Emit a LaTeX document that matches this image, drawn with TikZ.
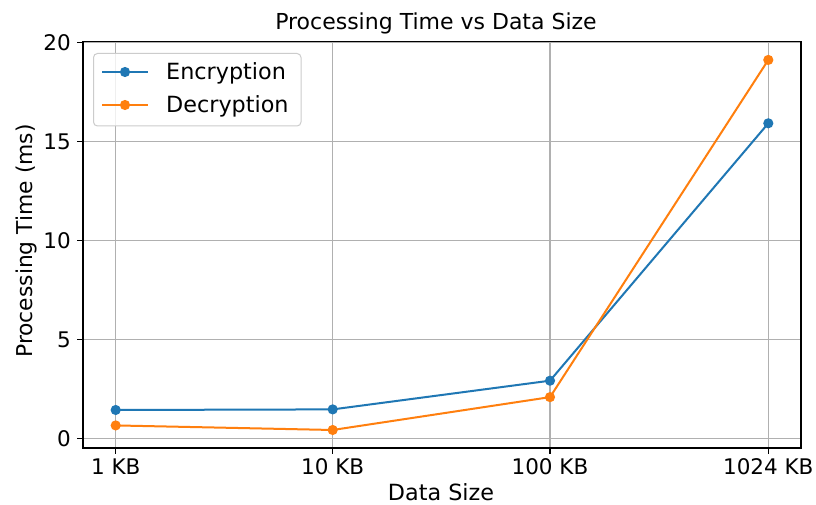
\documentclass[tikz,border=0pt]{standalone}
\usepackage{fontspec}
\setmainfont{DejaVu Sans}
\definecolor{encblue}{HTML}{1F77B4}
\definecolor{decorange}{HTML}{FF7F0E}
\definecolor{gridgray}{HTML}{B0B0B0}
\definecolor{legendedge}{HTML}{CCCCCC}
\tikzset{
  lbl/.style={inner sep=0pt, font=\fontsize{21.5}{25}\selectfont},
  biglbl/.style={inner sep=0pt, font=\fontsize{22.3}{26}\selectfont},
  gridline/.style={draw=gridgray, line width=1.1pt},
  frame/.style={draw=black, line width=1.2pt},
  tickmark/.style={draw=black, line width=1.2pt},
  series/.style={line width=2pt, line join=round},
  dot/.style={circle, inner sep=0pt, minimum size=10.2pt},
}
\begin{document}
\begin{tikzpicture}[x=1pt, y=1pt]
\useasboundingbox (0,0) rectangle (816,504);
\fill[white] (0,0) rectangle (816,504);

% axes in data units: x in pixels, y in ms
\begin{scope}[shift={(0pt,65.3pt)}, x=1pt, y=19.8pt]
  \coordinate (ll) at (83,-0.47);
  \coordinate (ur) at (801,20.05);

  % grid
  \foreach \v in {0,5,10,15,20}
    \draw[gridline] (83,\v) -- (801,\v);
  \foreach \px in {115.7,332.7,550,768.3}
    \draw[gridline] (\px,-0.47) -- (\px,20.05);

  % ticks and tick labels
  \foreach \v in {0,5,10,15,20} {
    \draw[tickmark] (83,\v) -- (77,\v);
    \node[lbl, anchor=base east] at ([yshift=-7.5pt]71,\v) {\v};
  }
  \foreach \px in {115.7,332.7,550,768.3} {
    \draw[tickmark] (\px,-0.47) -- ([yshift=-6pt]\px,-0.47);
  }
  \node[lbl, anchor=base] (t1) at (115.7,-1.83) {1 KB};
  \node[lbl, anchor=base] (t2) at (332.7,-1.83) {10 KB};
  \node[lbl, anchor=base] (t3) at (550,-1.83) {100 KB};
  \node[lbl, anchor=base] (t4) at (768.3,-1.83) {1024 KB};

  % data points
  \coordinate (e1) at (115.7,1.45);
  \coordinate (e2) at (332.7,1.48);
  \coordinate (e3) at (550,2.93);
  \coordinate (e4) at (768.3,15.93);
  \coordinate (d1) at (115.7,0.67);
  \coordinate (d2) at (332.7,0.44);
  \coordinate (d3) at (550,2.10);
  \coordinate (d4) at (768.3,19.13);

  \draw[series, encblue] (e1) -- (e2) -- (e3) -- (e4);
  \foreach \p in {e1,e2,e3,e4}
    \node[dot, fill=encblue] at (\p) {};
  \draw[series, decorange] (d1) -- (d2) -- (d3) -- (d4);
  \foreach \p in {d1,d2,d3,d4}
    \node[dot, fill=decorange] at (\p) {};

  % frame
  \draw[frame] (ll) rectangle (ur);
\end{scope}

% legend
\draw[legendedge, line width=1pt, fill=white, fill opacity=0.8, rounded corners=4pt]
  (93.5,378) rectangle (301,450.5);
\coordinate (la) at (102,432);
\coordinate (lb) at (148,432);
\coordinate (lc) at (102,399);
\coordinate (ld) at (148,399);
\draw[series, encblue] (la) -- (lb);
\node[dot, fill=encblue] at (125,432) {};
\draw[series, decorange] (lc) -- (ld);
\node[dot, fill=decorange] at (125,399) {};
\node[biglbl, anchor=base west] (le) at (166,424.7) {Encryption};
\node[biglbl, anchor=base west] (ld2) at (166,391.3) {Decryption};

% titles
\node[biglbl, anchor=base, font=\fontsize{22}{26}\selectfont] (title) at (436,474) {Processing Time vs Data Size};
\node[biglbl, anchor=base] (xlab) at (441,3.5) {Data Size};
\node[lbl, anchor=base, rotate=90, font=\fontsize{21.8}{26}\selectfont] (ylab) at (32,263) {Processing Time (ms)};
\end{tikzpicture}
\end{document}
